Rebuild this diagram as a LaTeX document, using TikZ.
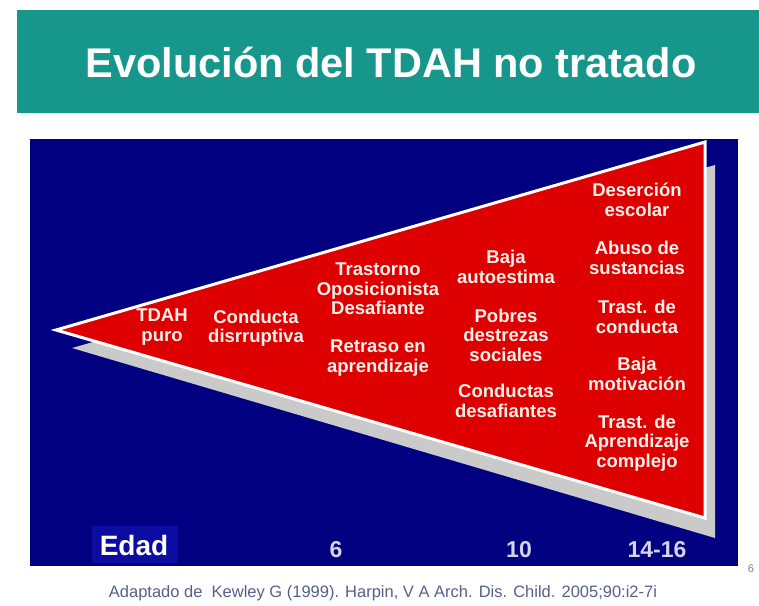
\documentclass[tikz,border=0pt]{standalone}
\usepackage{tikz}
\usepackage{xcolor}
\usepackage{fontspec}
\setmainfont{Liberation Sans}
\definecolor{slideTeal}{HTML}{17968C}
\definecolor{slideNavy}{HTML}{000080}
\definecolor{slideRed}{HTML}{DE0000}
\definecolor{slideShadow}{HTML}{CACACA}
\definecolor{slideLabel}{HTML}{FFF1EA}
\definecolor{slideEdad}{HTML}{0C0CA2}
\definecolor{slideAge}{HTML}{D4D4EA}
\definecolor{slideNote}{HTML}{56608C}

\tikzset{
    stage/.style={text=slideLabel, font=\bfseries\fontsize{18.5}{19.5}\selectfont, align=center, inner sep=0pt},
    agemark/.style={text=slideAge, font=\bfseries\fontsize{23}{23}\selectfont, inner sep=0pt, anchor=base}
}

\begin{document}
\begin{tikzpicture}[x=1pt, y=-1pt]
        \fill[white] (0,0) rectangle (759,605);
        \useasboundingbox (0,0) rectangle (759,605);

        \fill[slideTeal] (17,10) rectangle (759,113);
        \node[text=white, font=\bfseries\fontsize{41.5}{44}\selectfont, anchor=base, inner sep=0pt] (title) at (391,77) {Evolución del TDAH no tratado};

        \fill[slideNavy] (30,139) rectangle (738,566);
        \fill[slideShadow] (72,348) -- (715,165) -- (715,538) -- cycle;
        \filldraw[fill=slideRed, draw=white, line width=3pt] (56,330) -- (705,142) -- (705,518) -- cycle;

        \node[stage] (tdah) at (162,327) {TDAH\\puro};
        \node[stage] (disruptiva) at (256,328) {Conducta\\disrruptiva};
        \node[stage] (oposicion) at (378,289) {Trastorno\\Oposicionista\\Desafiante};
        \node[stage] (retraso) at (378,358) {Retraso en\\aprendizaje};
        \node[stage] (autoestima) at (506,267) {Baja\\autoestima};
        \node[stage] (destrezas) at (506,335) {Pobres\\destrezas\\sociales};
        \node[stage] (desafiantes) at (506,401) {Conductas\\desafiantes};
        \node[stage] (desercion) at (637,200) {Deserción\\escolar};
        \node[stage] (abuso) at (637,258) {Abuso de\\sustancias};
        \node[stage] (conducta) at (637,317) {Trast. de\\conducta};
        \node[stage] (motivacion) at (637,374) {Baja\\motivación};
        \node[stage] (aprendizaje) at (637,443) {Trast. de\\Aprendizaje\\complejo};

        \fill[slideEdad] (92,526) rectangle (178,563);
        \node[text=white, font=\bfseries\fontsize{28}{28}\selectfont, anchor=base, inner sep=0pt] (edad) at (134,555) {Edad};
        \node[agemark] (seis) at (336,557) {6};
        \node[agemark] (diez) at (519,557) {10};
        \node[agemark] (adolescencia) at (657,557) {14-16};

        \node[text=slideNote, font=\fontsize{16.5}{17}\selectfont, anchor=base, inner sep=0pt] (fuente) at (383,597) {Adaptado de\ \ Kewley G (1999). Harpin, V A Arch. Dis. Child. 2005;90:i2-7i};
        \node[text=gray, font=\fontsize{11}{11}\selectfont, anchor=base, inner sep=0pt] (pagina) at (751,572) {6};
    \end{tikzpicture}
\end{document}
